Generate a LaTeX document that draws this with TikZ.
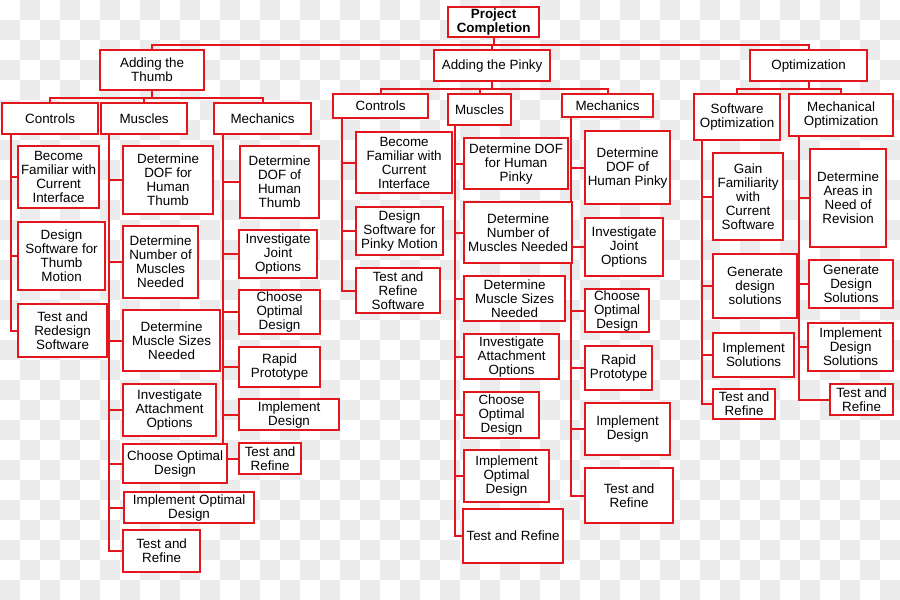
\documentclass[tikz,border=0pt]{standalone}
\usepackage{fontspec}
\setmainfont{Liberation Sans}
\usepackage{tikz}
\usetikzlibrary{calc,backgrounds}
\definecolor{wbsRed}{HTML}{E3161E}
\definecolor{checkGray}{HTML}{ECECEC}

\begin{document}
\begin{tikzpicture}[x=1pt, y=-1pt,
  box/.style={draw=wbsRed, line width=2.2pt, fill=white, align=center, anchor=north west,
    inner sep=1pt, font=\fontsize{13.4}{14}\selectfont},
  wh/.style 2 args={minimum width=#1, minimum height=#2},
  link/.style={draw=wbsRed, line width=2.2pt}]
\useasboundingbox (0,0) rectangle (900,600);
% top levels
\node[box, wh={91}{30}, font=\fontsize{13.4}{14}\selectfont\bfseries] (root) at (447,6) {Project\\Completion};
\node[box, wh={104}{40}] (thumb) at (99,49) {Adding the\\Thumb};
\node[box, wh={116}{31}] (pinky) at (433,49) {Adding the Pinky};
\node[box, wh={117}{31}] (opt) at (749,49) {Optimization};
\node[box, wh={96}{31}] (tctl) at (1,102) {Controls};
\node[box, wh={86}{31}] (tmus) at (100,102) {Muscles};
\node[box, wh={97}{31}] (tmec) at (213,102) {Mechanics};
\node[box, wh={95}{24}] (pctl) at (332,93) {Controls};
\node[box, wh={63}{31}] (pmus) at (447,93) {Muscles};
\node[box, wh={91}{23}] (pmec) at (561,93) {Mechanics};
\node[box, wh={86}{46}] (swo) at (693,93) {Software\\Optimization};
\node[box, wh={104}{42}] (mco) at (788,93) {Mechanical\\Optimization};
% thumb
\node[box, wh={81}{62}] (tc1) at (17,145) {Become\\Familiar with\\Current\\Interface};
\node[box, wh={87}{68}] (tc2) at (17,221) {Design\\Software for\\Thumb\\Motion};
\node[box, wh={89}{53}] (tc3) at (17,303) {Test and\\Redesign\\Software};
\node[box, wh={90}{68}] (tm1) at (122,145) {Determine\\DOF for\\Human\\Thumb};
\node[box, wh={75}{72}] (tm2) at (122,225) {Determine\\Number of\\Muscles\\Needed};
\node[box, wh={97}{61}] (tm3) at (122,309) {Determine\\Muscle Sizes\\Needed};
\node[box, wh={93}{52}] (tm4) at (122,383) {Investigate\\Attachment\\Options};
\node[box, wh={104}{39}] (tm5) at (122,443) {Choose Optimal\\Design};
\node[box, wh={130}{31}] (tm6) at (123,491) {Implement Optimal\\Design};
\node[box, wh={77}{42}] (tm7) at (122,529) {Test and\\Refine};
\node[box, wh={79}{72}] (tk1) at (239,145) {Determine\\DOF of\\Human\\Thumb};
\node[box, wh={78}{48}] (tk2) at (238,229) {Investigate\\Joint\\Options};
\node[box, wh={81}{44}] (tk3) at (238,289) {Choose\\Optimal\\Design};
\node[box, wh={81}{40}] (tk4) at (238,346) {Rapid\\Prototype};
\node[box, wh={100}{31}] (tk5) at (238,398) {Implement\\Design};
\node[box, wh={62}{31}] (tk6) at (238,442) {Test and\\Refine};
% pinky
\node[box, wh={96}{61}] (pc1) at (355,131) {Become\\Familiar with\\Current\\Interface};
\node[box, wh={87}{48}] (pc2) at (355,206) {Design\\Software for\\Pinky Motion};
\node[box, wh={84}{45}] (pc3) at (355,267) {Test and\\Refine\\Software};
\node[box, wh={104}{51}] (pm1) at (463,137) {Determine DOF\\for Human\\Pinky};
\node[box, wh={108}{61}] (pm2) at (463,201) {Determine\\Number of\\Muscles Needed};
\node[box, wh={101}{45}] (pm3) at (463,275) {Determine\\Muscle Sizes\\Needed};
\node[box, wh={95}{45}] (pm4) at (463,333) {Investigate\\Attachment\\Options};
\node[box, wh={75}{46}] (pm5) at (463,391) {Choose\\Optimal\\Design};
\node[box, wh={85}{52}] (pm6) at (463,449) {Implement\\Optimal\\Design};
\node[box, wh={100}{54}] (pm7) at (462,508) {Test and Refine};
\node[box, wh={85}{73}] (pk1) at (584,130) {Determine\\DOF of\\Human Pinky};
\node[box, wh={78}{58}] (pk2) at (584,217) {Investigate\\Joint\\Options};
\node[box, wh={64}{43}] (pk3) at (584,288) {Choose\\Optimal\\Design};
\node[box, wh={67}{44}] (pk4) at (584,345) {Rapid\\Prototype};
\node[box, wh={85}{52}] (pk5) at (584,402) {Implement\\Design};
\node[box, wh={88}{55}] (pk6) at (584,467) {Test and\\Refine};
% optimization
\node[box, wh={70}{87}] (so1) at (712,152) {Gain\\Familiarity\\with\\Current\\Software};
\node[box, wh={84}{64}] (so2) at (712,253) {Generate\\design\\solutions};
\node[box, wh={81}{44}] (so3) at (712,332) {Implement\\Solutions};
\node[box, wh={62}{30}] (so4) at (712,388) {Test and\\Refine};
\node[box, wh={76}{98}] (mo1) at (809,148) {Determine\\Areas in\\Need of\\Revision};
\node[box, wh={84}{48}] (mo2) at (808,259) {Generate\\Design\\Solutions};
\node[box, wh={85}{48}] (mo3) at (807,322) {Implement\\Design\\Solutions};
\node[box, wh={63}{31}] (mo4) at (829,383) {Test and\\Refine};

\begin{scope}[on background layer]
  % faint checker
  \foreach \i in {0,...,44}
    \foreach \j in {0,...,29} {
      \pgfmathtruncatemacro\odd{mod(\i+\j,2)}
      \ifnum\odd=1 \fill[checkGray] (20*\i,20*\j) rectangle ++(20,20);\fi
    }
  % buses
  \draw[link] (root.south) -- ++(0,7) -| (thumb.north);
  \draw[link] (root.south) -- ++(0,7) -| (pinky.north);
  \draw[link] (root.south) -- ++(0,7) -| (opt.north);
  \draw[link] (thumb.south) -- ++(0,7) -| (tctl.north);
  \draw[link] (thumb.south) -- ++(0,7) -| (tmus.north);
  \draw[link] (thumb.south) -- ++(0,7) -| (tmec.north);
  \draw[link] (pinky.south) -- ++(0,7) -| (pctl.north);
  \draw[link] (pinky.south) -- ++(0,7) -| (pmus.north);
  \draw[link] (pinky.south) -- ++(0,7) -| (pmec.north);
  \draw[link] (opt.south) -- ++(0,7) -| (swo.north);
  \draw[link] (opt.south) -- ++(0,7) -| (mco.north);
  % spines
  \draw[link] ($(tctl.south west)+(10,0)$) coordinate (tctlS)
    |- (tc1.west) (tctlS) |- (tc2.west) (tctlS) |- (tc3.west);
  \draw[link] ($(tmus.south west)+(9,0)$) coordinate (tmusS)
    |- (tm1.west) (tmusS) |- (tm2.west) (tmusS) |- (tm3.west) (tmusS) |- (tm4.west)
    (tmusS) |- (tm5.west) (tmusS) |- (tm6.west) (tmusS) |- (tm7.west);
  \draw[link] ($(tmec.south west)+(10,0)$) coordinate (tmecS)
    |- (tk1.west) (tmecS) |- (tk2.west) (tmecS) |- (tk3.west) (tmecS) |- (tk4.west)
    (tmecS) |- (tk5.west) (tmecS) |- (tk6.west);
  \draw[link] ($(pctl.south west)+(10,0)$) coordinate (pctlS)
    |- (pc1.west) (pctlS) |- (pc2.west) (pctlS) |- (pc3.west);
  \draw[link] ($(pmus.south west)+(8,0)$) coordinate (pmusS)
    |- (pm1.west) (pmusS) |- (pm2.west) (pmusS) |- (pm3.west) (pmusS) |- (pm4.west)
    (pmusS) |- (pm5.west) (pmusS) |- (pm6.west) (pmusS) |- (pm7.west);
  \draw[link] ($(pmec.south west)+(10,0)$) coordinate (pmecS)
    |- (pk1.west) (pmecS) |- (pk2.west) (pmecS) |- (pk3.west) (pmecS) |- (pk4.west)
    (pmecS) |- (pk5.west) (pmecS) |- (pk6.west);
  \draw[link] ($(swo.south west)+(9,0)$) coordinate (swoS)
    |- (so1.west) (swoS) |- (so2.west) (swoS) |- (so3.west) (swoS) |- (so4.west);
  \draw[link] ($(mco.south west)+(11,0)$) coordinate (mcoS)
    |- (mo1.west) (mcoS) |- (mo2.west) (mcoS) |- (mo3.west) (mcoS) |- (mo4.west);
\end{scope}
\end{tikzpicture}
\end{document}
